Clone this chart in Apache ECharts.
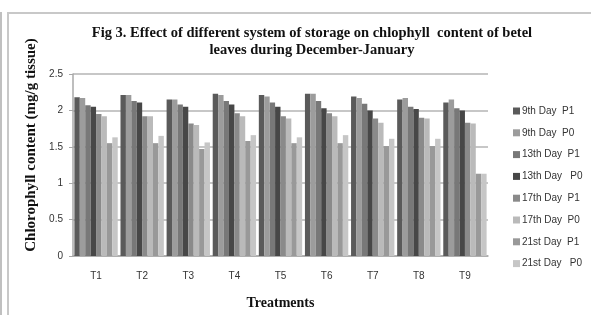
<!DOCTYPE html>
<html>
<head>
<meta charset="utf-8">
<script src="https://cdn.jsdelivr.net/npm/echarts@6/dist/echarts.min.js"></script>
<style>
  html, body { margin: 0; padding: 0; background: #fff; }
  #frame { position: absolute; left: 7px; top: 12px; width: 600px; height: 320px; border-left: 2px solid #c8c8c8; border-top: 2px solid #c8c8c8; }
  #edge { position: absolute; left: 0; top: 12px; width: 2px; height: 310px; background: #c0c0c0; }
  #chart { position: absolute; left: 0; top: 0; width: 591px; height: 315px; }
</style>
</head>
<body>
<div id="edge"></div>
<div id="frame"></div>
<div id="chart"></div>
<script>
  // treatments on the x axis
  const treatments = ['T1', 'T2', 'T3', 'T4', 'T5', 'T6', 'T7', 'T8', 'T9'];
  const yTicks = [0, 0.5, 1, 1.5, 2, 2.5];

  // chlorophyll content (mg/g tissue)
  const day9P1  = [2.18, 2.21, 2.15, 2.23, 2.21, 2.23, 2.19, 2.15, 2.11];
  const day9P0  = [2.17, 2.21, 2.15, 2.21, 2.19, 2.23, 2.17, 2.17, 2.15];
  const day13P1 = [2.07, 2.13, 2.08, 2.13, 2.11, 2.13, 2.09, 2.05, 2.03];
  const day13P0 = [2.05, 2.11, 2.05, 2.08, 2.05, 2.03, 2.00, 2.02, 2.00];
  const day17P1 = [1.95, 1.92, 1.82, 1.96, 1.92, 1.96, 1.89, 1.90, 1.83];
  const day17P0 = [1.92, 1.92, 1.80, 1.92, 1.89, 1.92, 1.83, 1.89, 1.82];
  const day21P1 = [1.55, 1.55, 1.47, 1.58, 1.55, 1.55, 1.51, 1.51, 1.13];
  const day21P0 = [1.63, 1.65, 1.56, 1.66, 1.63, 1.66, 1.61, 1.61, 1.13];

  const seriesDefs = [
    { name: '9th Day  P1',  data: day9P1,  color: '#5a5a5a' },
    { name: '9th Day  P0',  data: day9P0,  color: '#9c9c9c' },
    { name: '13th Day  P1', data: day13P1, color: '#787878' },
    { name: '13th Day   P0', data: day13P0, color: '#474747' },
    { name: '17th Day  P1', data: day17P1, color: '#8a8a8a' },
    { name: '17th Day  P0', data: day17P0, color: '#bababa' },
    { name: '21st Day  P1', data: day21P1, color: '#999999' },
    { name: '21st Day   P0', data: day21P0, color: '#c6c6c6' },
  ];

  const myChart = echarts.init(document.getElementById('chart'));

  const option = {
    animation: false,
    title: {
      text: 'Fig 3. Effect of different system of storage on chlophyll  content of betel\nleaves during December-January',
      left: 307,
      textAlign: 'center',
      top: 20,
      textStyle: {
        fontFamily: 'Liberation Serif',
        fontWeight: 'bold',
        fontSize: 14.5,
        lineHeight: 17,
        color: '#111',
      },
    },
    legend: {
      orient: 'vertical',
      left: 508,
      top: 101,
      itemWidth: 7,
      itemHeight: 7,
      itemGap: 11.8,
      icon: 'rect',
      textStyle: { fontFamily: 'Liberation Sans', fontSize: 10, color: '#333', padding: [0, 0, 0, -3] },
      data: seriesDefs.map(s => s.name),
    },
    grid: { left: 73, right: 103, top: 74, bottom: 55.5, containLabel: false },
    xAxis: {
      type: 'category',
      data: treatments,
      name: 'Treatments',
      nameLocation: 'middle',
      nameGap: 40,
      nameTextStyle: { fontFamily: 'Liberation Serif', fontWeight: 'bold', fontSize: 14, color: '#111' },
      axisLine: { lineStyle: { color: '#a8a8a8', width: 1.5 } },
      axisTick: { show: false },
      axisLabel: { fontFamily: 'Liberation Sans', fontSize: 10, color: '#333', margin: 15 },
    },
    yAxis: {
      type: 'value',
      min: yTicks[0],
      max: yTicks[yTicks.length - 1],
      interval: 0.5,
      name: 'Chlorophyll content (mg/g tissue)',
      nameLocation: 'middle',
      nameGap: 33,
      nameTextStyle: {
        fontFamily: 'Liberation Serif', fontWeight: 'bold', fontSize: 15, color: '#111',
        padding: [0, 0, 0, 40],
      },
      axisLine: { show: true, lineStyle: { color: '#a8a8a8', width: 1.5 } },
      axisTick: { show: true, length: 4, lineStyle: { color: '#a8a8a8' } },
      axisLabel: { fontFamily: 'Liberation Sans', fontSize: 10, color: '#333', margin: 10 },
      splitLine: { lineStyle: { color: '#b4b4b4', width: 1.5 } },
    },
    series: seriesDefs.map(s => ({
      name: s.name,
      type: 'bar',
      data: s.data,
      barGap: '0%',
      barCategoryGap: '6%',
      itemStyle: { color: s.color },
    })),
  };

  myChart.setOption(option);
</script>
</body>
</html>
